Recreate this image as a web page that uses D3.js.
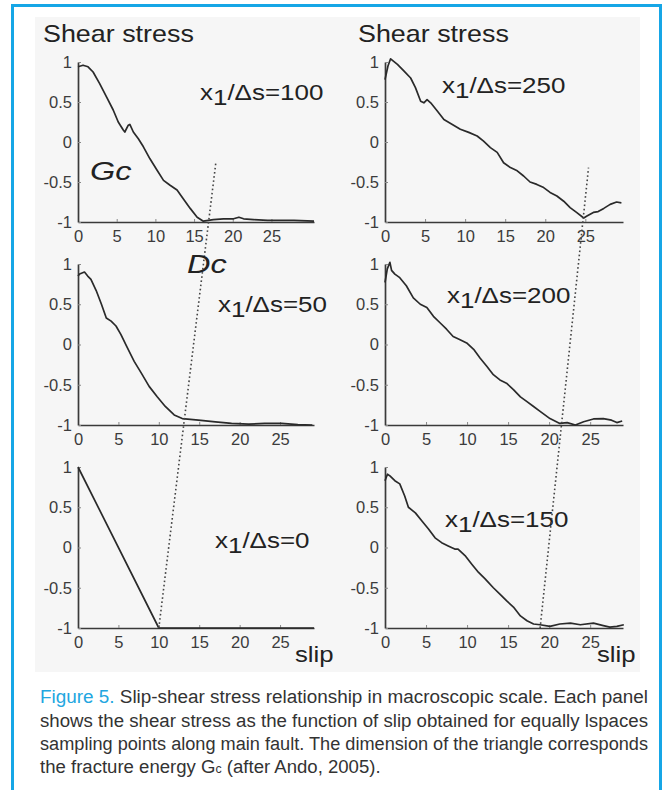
<!DOCTYPE html>
<meta charset="utf-8">
<style>
  body {
    margin: 0;
    background-color: white;
  }
  svg {
    display: block;
    font-family: "Liberation Sans", Arial, sans-serif;
  }
  .axis path {
    stroke: #3a3a3a;
    stroke-width: 1.7;
  }
  .axis line {
    stroke: #888;
  }
  .axis text {
    fill: #3c3c3c;
    font-size: 16.5px;
    font-family: "Liberation Sans", Arial, sans-serif;
  }
</style>
<script src="https://cdn.jsdelivr.net/npm/d3@7"></script>
<body>
<div id="chart"></div>
<script>
// slip / shear stress (x1/Δs = value)
const slip100   = [0,0.65,1.3,1.95,2.8,3.7,4.55,5.2,5.85,6.05,6.5,6.7,7.15,7.8,8.45,9.3,10.2,11.05,11.9,12.8,13.6,14.5,15.4,16.2,17.5,18.8,20.1,20.8,21.4,22.7,24.5,26.2,27.9,30.5];
const stress100 = [0.94,0.96,0.94,0.875,0.73,0.56,0.40,0.25,0.15,0.125,0.21,0.22,0.125,0.04,-0.06,-0.21,-0.35,-0.48,-0.54,-0.60,-0.71,-0.83,-0.94,-0.99,-0.97,-0.96,-0.96,-0.94,-0.96,-0.97,-0.98,-0.98,-0.98,-0.99];

const slip250   = [0,0.37,0.7,1.55,2.35,3.2,3.8,4.45,4.85,5.25,5.7,6.5,7.35,8.4,9.4,10.45,11.5,12.3,13.15,14.0,14.8,15.65,16.5,17.3,18.1,18.95,19.8,20.6,21.45,22.3,23.1,23.9,24.8,25.2,26.0,26.6,27.3,28.1,28.9,29.5];
const stress250 = [0.78,0.95,1.04,0.97,0.89,0.80,0.68,0.51,0.49,0.53,0.49,0.39,0.28,0.22,0.16,0.12,0.075,0.01,-0.07,-0.13,-0.26,-0.32,-0.36,-0.425,-0.50,-0.53,-0.57,-0.63,-0.675,-0.74,-0.82,-0.88,-0.95,-0.925,-0.88,-0.87,-0.83,-0.78,-0.75,-0.76];

const slip50    = [0,0.2,0.8,1.2,1.6,2.25,2.9,3.5,4.1,4.7,5.3,6.1,6.95,7.8,8.8,9.8,10.8,11.9,12.9,14.9,17.0,19.0,21.1,23.1,25.2,27.2,29.0];
const stress50  = [0.85,0.875,0.9,0.85,0.81,0.67,0.5,0.33,0.29,0.23,0.125,-0.04,-0.21,-0.35,-0.52,-0.65,-0.77,-0.875,-0.92,-0.94,-0.96,-0.98,-0.99,-0.98,-0.98,-0.995,-1.0];

const slip200   = [0,0.28,0.6,0.8,1.2,1.8,2.6,3.45,4.3,5.1,5.9,6.7,7.5,8.3,9.15,9.95,10.8,11.6,12.4,13.2,14.0,14.8,15.65,16.5,17.3,18.1,18.9,20.1,21.3,22.2,23.2,24.2,25.4,26.6,27.6,28.25,28.9];
const stress200 = [0.77,0.94,1.02,0.92,0.875,0.83,0.73,0.58,0.5,0.46,0.35,0.27,0.19,0.10,0.06,0.02,-0.06,-0.17,-0.27,-0.375,-0.44,-0.48,-0.56,-0.65,-0.71,-0.77,-0.83,-0.92,-0.98,-0.97,-1.0,-0.96,-0.925,-0.92,-0.94,-0.97,-0.95];

const slip0     = [0,10,29.2];
const stress0   = [1,-1,-1];

const slip150   = [0,0.3,0.6,1.2,1.8,2.4,2.85,3.7,4.5,5.3,6.1,6.9,7.7,8.5,8.9,9.75,10.6,11.4,12.2,13.2,14.0,14.8,15.65,16.5,17.3,18.1,18.9,20.1,21.3,22.6,23.8,25.4,26.6,27.4,28.25,29.1];
const stress150 = [0.83,0.91,0.89,0.83,0.79,0.64,0.50,0.43,0.33,0.23,0.12,0.06,0.02,-0.02,-0.02,-0.10,-0.21,-0.31,-0.39,-0.50,-0.58,-0.66,-0.74,-0.85,-0.91,-0.95,-0.96,-0.98,-0.95,-0.94,-0.96,-0.94,-0.97,-0.99,-0.98,-0.96];

const xTicks = [0,5,10,15,20,25];
const yTicks = [1,0.5,0,-0.5,-1];

// Dc guide lines: [bottom panel point, top panel point]
const dcLeft  = [{panel:"0",   slip:10,   stress:-1}, {panel:"100", slip:17.8, stress:-0.27}];
const dcRight = [{panel:"150", slip:18.9, stress:-1}, {panel:"250", slip:25.4, stress:-0.32}];

const captionLines = [
  "Slip-shear stress relationship in macroscopic scale. Each panel",
  "shows the shear stress as the function of slip obtained for equally lspaces",
  "sampling points along main fault. The dimension of the triangle corresponds",
  "the fracture energy G"
];

// layout (pixels)
const W = 667, H = 790;
const colX = [[78,314],[385,623]];
const rowY = [[222,62],[425,264],[628,467]];

const panels = [
  {id:"100", col:0, row:0, xMax:30.5, slip:slip100, stress:stress100, lx:200, ly:100},
  {id:"250", col:1, row:0, xMax:29.7, slip:slip250, stress:stress250, lx:442, ly:93},
  {id:"50",  col:0, row:1, xMax:29.2, slip:slip50,  stress:stress50,  lx:218, ly:312},
  {id:"200", col:1, row:1, xMax:29.0, slip:slip200, stress:stress200, lx:447, ly:303},
  {id:"0",   col:0, row:2, xMax:29.2, slip:slip0,   stress:stress0,   lx:215, ly:548},
  {id:"150", col:1, row:2, xMax:29.0, slip:slip150, stress:stress150, lx:445, ly:527}
];

const svg = d3.select("#chart").append("svg")
  .attr("width", W)
  .attr("height", H);

// photo area + blue frame
svg.append("rect")
  .attr("x", 35).attr("y", 17).attr("width", 605).attr("height", 655)
  .attr("fill", "#f6f6f6");

svg.append("path")
  .attr("d", "M12.5," + H + "V5.5H660.5V" + H)
  .attr("fill", "none")
  .attr("stroke", "#16a6e6")
  .attr("stroke-width", 3);

const byId = {};

panels.forEach(p => {
  p.x = d3.scaleLinear().domain([0, p.xMax]).range(colX[p.col]);
  p.y = d3.scaleLinear().domain([-1, 1]).range(rowY[p.row]);
  byId[p.id] = p;

  svg.append("g")
    .attr("class", "axis")
    .attr("transform", "translate(0," + p.y(-1) + ")")
    .call(d3.axisBottom(p.x).tickValues(xTicks).tickSizeInner(-3).tickSizeOuter(0).tickPadding(8).tickFormat(d => String(d)));

  svg.append("g")
    .attr("class", "axis")
    .attr("transform", "translate(" + p.x(0) + ",0)")
    .call(d3.axisLeft(p.y).tickValues(yTicks).tickSizeInner(-3).tickSizeOuter(0).tickPadding(6).tickFormat(d => String(d)));

  const line = d3.line()
    .x((d, i) => p.x(p.slip[i]))
    .y(d => p.y(d));

  svg.append("path")
    .datum(p.stress)
    .attr("d", line)
    .attr("fill", "none")
    .attr("stroke", "#2a2a2a")
    .attr("stroke-width", 1.7)
    .attr("stroke-linejoin", "round");

  // x1/Δs label
  const t = svg.append("text")
    .attr("transform", "translate(" + p.lx + "," + p.ly + ") scale(1.18,1)")
    .attr("font-size", 22)
    .attr("fill", "#222");
  t.append("tspan").text("x");
  t.append("tspan").attr("dy", 5).text("1");
  t.append("tspan").attr("dy", -5).text("/Δs=" + p.id);
});

// Dc dotted lines
[dcLeft, dcRight].forEach(seg => {
  svg.append("path")
    .datum(seg)
    .attr("d", d3.line()
      .x(d => byId[d.panel].x(d.slip))
      .y(d => byId[d.panel].y(d.stress)))
    .attr("fill", "none")
    .attr("stroke", "#444")
    .attr("stroke-width", 1.6)
    .attr("stroke-dasharray", "1.6,2.6");
});

// titles
[[43, 42], [358, 42]].forEach(pos => {
  svg.append("text")
    .attr("transform", "translate(" + pos[0] + "," + pos[1] + ") scale(1.12,1)")
    .attr("font-size", 24)
    .attr("fill", "#222")
    .text("Shear stress");
});
[[295, 662], [597, 662]].forEach(pos => {
  svg.append("text")
    .attr("transform", "translate(" + pos[0] + "," + pos[1] + ") scale(1.12,1)")
    .attr("font-size", 23)
    .attr("fill", "#222")
    .text("slip");
});

svg.append("text")
  .attr("transform", "translate(90,180) scale(1.3,1)")
  .attr("font-size", 25).attr("font-style", "italic").attr("fill", "#222")
  .text("Gc");
svg.append("text")
  .attr("transform", "translate(187,273) scale(1.3,1)")
  .attr("font-size", 25).attr("font-style", "italic").attr("fill", "#222")
  .text("Dc");

// caption
const capY = [703, 727, 750, 773];
const capW = 608;
const cap = svg.append("g").attr("font-size", 18).attr("fill", "#333");
const capNodes = captionLines.map((txt, i) => {
  const t = cap.append("text").attr("x", 40).attr("y", capY[i]);
  if (i === 0) {
    t.append("tspan").attr("fill", "#22a6e0").text("Figure 5. ");
    t.append("tspan").text(txt);
  } else if (i === 3) {
    t.append("tspan").text(txt);
    t.append("tspan").attr("font-size", 12).text("c");
    t.append("tspan").text(" (after Ando, 2005).");
  } else {
    t.text(txt);
  }
  return t;
});
let ratio = 0;
capNodes.slice(0, 3).forEach(t => {
  const w = t.node().getComputedTextLength();
  ratio += capW / w / 3;
  t.attr("textLength", capW).attr("lengthAdjust", "spacingAndGlyphs");
});
const lastW = capNodes[3].node().getComputedTextLength();
capNodes[3].attr("textLength", lastW * ratio).attr("lengthAdjust", "spacingAndGlyphs");
</script>
</body>
